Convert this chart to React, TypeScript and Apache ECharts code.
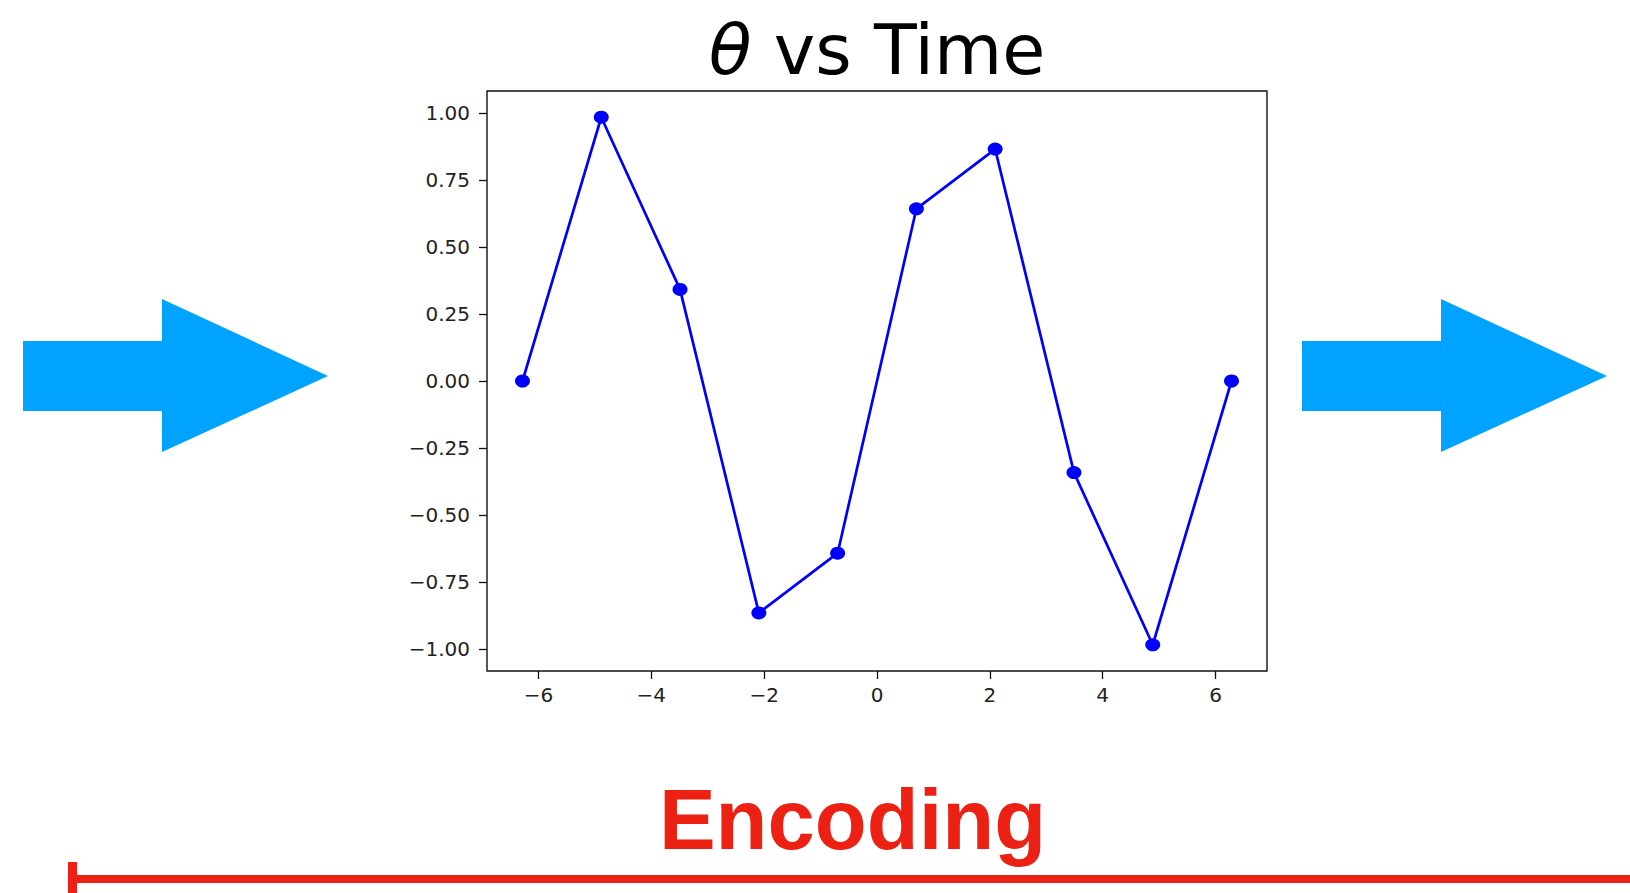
import React, { useEffect, useRef } from "react";
import * as echarts from "echarts";

// Data
const times = [-6.283, -4.887, -3.491, -2.094, -0.698, 0.698, 2.094, 3.491, 4.887, 6.283];
const theta = [0.0, 0.985, 0.342, -0.866, -0.643, 0.643, 0.866, -0.342, -0.985, 0.0];
const xTicks = [-6, -4, -2, 0, 2, 4, 6];
const yTicks = [-1.0, -0.75, -0.5, -0.25, 0.0, 0.25, 0.5, 0.75, 1.0];
const titleText = "vs Time";
const titleSymbol = "θ";
const caption = "Encoding";

const minus = (s: string) => s.replace("-", "\u2212");

export default function App() {
  const ref = useRef<HTMLDivElement>(null);
  useEffect(() => {
    if (!ref.current) return;
    const chart = echarts.init(ref.current, undefined, { renderer: "svg" });
    const tickFont = "DejaVu Sans";
    const arrowColor = "#00A3FF";
    const red = "#EC2113";
    const option: any = {
      animation: false,
      backgroundColor: "#ffffff",
      title: {
        text: `{i|${titleSymbol}} ${titleText}`,
        left: 877,
        top: 10,
        padding: 0,
        textAlign: "center",
        textStyle: {
          fontFamily: "DejaVu Sans",
          fontSize: 70,
          fontWeight: "normal",
          color: "#000",
          lineHeight: 80,
          rich: {
            i: { fontFamily: "DejaVu Sans", fontStyle: "italic", fontSize: 70, color: "#000", lineHeight: 80 },
          },
        },
      },
      grid: {
        left: 487,
        top: 91,
        width: 780,
        height: 580,
        show: true,
        borderColor: "#111",
        borderWidth: 1.4,
        backgroundColor: "#fff",
      },
      xAxis: {
        type: "value",
        min: -6.912,
        max: 6.912,
        splitLine: { show: false },
        axisLine: { show: false, onZero: false },
        axisTick: {
          show: true,
          length: 8,
          lineStyle: { color: "#111", width: 1.3 },
          customValues: xTicks,
        },
        axisLabel: {
          customValues: xTicks,
          margin: 14,
          fontFamily: tickFont,
          fontSize: 20,
          color: "#222",
          formatter: (v: number) => minus(String(Math.round(v))),
        },
      },
      yAxis: {
        type: "value",
        min: -1.083,
        max: 1.083,
        splitLine: { show: false },
        axisLine: { show: false, onZero: false },
        axisTick: {
          show: true,
          length: 8,
          lineStyle: { color: "#111", width: 1.3 },
          customValues: yTicks,
        },
        axisLabel: {
          customValues: yTicks,
          margin: 17,
          fontFamily: tickFont,
          fontSize: 20,
          color: "#222",
          formatter: (v: number) => minus(v.toFixed(2)),
        },
      },
      series: [
        {
          type: "line",
          data: times.map((t, i) => [t, theta[i]]),
          symbol: "circle",
          symbolSize: [15, 13],
          showAllSymbol: true,
          lineStyle: { color: "#0000FF", width: 2.7 },
          itemStyle: { color: "#0000FF" },
          z: 3,
        },
      ],
      graphic: [
        // left arrow
        { type: "rect", shape: { x: 23, y: 341, width: 140, height: 70 }, style: { fill: arrowColor } },
        { type: "polygon", shape: { points: [[162, 299], [328, 376], [162, 452]] }, style: { fill: arrowColor } },
        // right arrow
        { type: "rect", shape: { x: 1302, y: 341, width: 140, height: 70 }, style: { fill: arrowColor } },
        { type: "polygon", shape: { points: [[1441, 299], [1607, 376], [1441, 452]] }, style: { fill: arrowColor } },
        // caption
        {
          type: "text",
          x: 852.5,
          y: 819,
          style: {
            text: caption,
            fill: red,
            font: "bold 85px 'Liberation Sans', Arial, sans-serif",
            textAlign: "center",
            textVerticalAlign: "middle",
          },
        },
        // red bracket line
        { type: "rect", shape: { x: 68, y: 862, width: 9, height: 31 }, style: { fill: red } },
        { type: "rect", shape: { x: 68, y: 875, width: 1562, height: 8 }, style: { fill: red } },
      ],
    };
    chart.setOption(option);
    return () => chart.dispose();
  }, []);
  return (
    <div
      ref={ref}
      style={{ position: "fixed", left: 0, top: 0, width: 1630, height: 893, background: "#fff" }}
    />
  );
}
